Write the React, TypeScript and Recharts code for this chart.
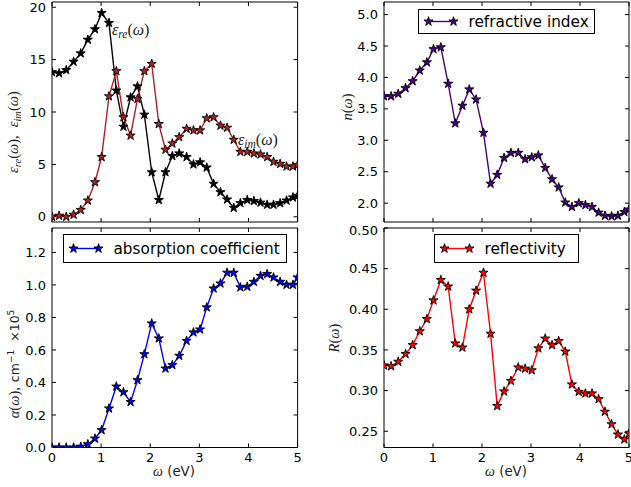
import React from "react";
import { Line, LineChart, XAxis, YAxis } from "recharts";

// photon energy grid (eV)
const energy = [
  0, 0.145, 0.29, 0.44, 0.585, 0.73, 0.875, 1.01, 1.16, 1.31, 1.455, 1.6, 1.74, 1.88, 2.03, 2.175, 2.31, 2.45, 2.59,
  2.74, 2.88, 3.015, 3.15, 3.29, 3.43, 3.565, 3.7, 3.835, 3.975, 4.11, 4.245, 4.38, 4.51, 4.645, 4.775, 4.905, 5.0,
];

const epsRe = [
  13.8, 13.7, 14.0, 14.8, 15.6, 16.9, 17.9, 19.45, 18.5, 12.05, 8.6, 11.4, 12.45, 9.75, 4.25, 1.6, 4.25, 5.8, 6.05, 5.7,
  5.0, 5.2, 4.7, 3.15, 2.35, 1.65, 0.85, 1.3, 1.6, 1.5, 1.35, 1.15, 1.15, 1.3, 1.55, 1.85, 2.0,
];
const epsIm = [
  0.0, 0.1, 0.0, 0.2, 0.65, 1.55, 3.3, 5.7, 11.5, 13.9, 9.5, 7.75, 11.25, 13.9, 14.6, 8.85, 6.4, 7.0, 7.6, 8.4, 8.25,
  8.25, 9.4, 9.5, 8.7, 8.5, 7.35, 6.2, 6.2, 6.05, 5.95, 5.7, 5.25, 5.05, 4.8, 4.8, 4.95,
];
const refrIndex = [
  3.7, 3.7, 3.74, 3.83, 3.94, 4.11, 4.24, 4.45, 4.48, 3.9, 3.27, 3.55, 3.81, 3.65, 3.12, 2.31, 2.45, 2.72, 2.8, 2.8,
  2.7, 2.73, 2.76, 2.56, 2.38, 2.25, 2.01, 1.94, 2.0, 1.97, 1.94, 1.85, 1.8, 1.79, 1.8, 1.86, 1.9,
];
const absorption = [
  0.0, 0.0, 0.0, 0.0, 0.005, 0.02, 0.055, 0.107, 0.24, 0.375, 0.34, 0.28, 0.414, 0.574, 0.763, 0.671, 0.486, 0.507,
  0.564, 0.656, 0.708, 0.726, 0.862, 0.978, 1.009, 1.075, 1.075, 0.985, 0.989, 1.019, 1.056, 1.067, 1.046, 1.019, 1.001,
  1.001, 1.046,
];
const reflectivity = [
  0.331, 0.33, 0.3355, 0.345, 0.356, 0.373, 0.388, 0.411, 0.436, 0.428, 0.358, 0.353, 0.4, 0.423, 0.445, 0.37, 0.281,
  0.299, 0.312, 0.3285, 0.327, 0.325, 0.352, 0.364, 0.356, 0.361, 0.348, 0.3076, 0.2985, 0.2965, 0.2965, 0.2895, 0.274,
  0.2586, 0.246, 0.24, 0.247,
];

const xTicks = [0, 1, 2, 3, 4, 5];
const epsTicks = [0, 5, 10, 15, 20];
const nTicks = [2.0, 2.5, 3.0, 3.5, 4.0, 4.5, 5.0];
const alphaTicks = [0.0, 0.2, 0.4, 0.6, 0.8, 1.0, 1.2];
const rTicks = [0.25, 0.3, 0.35, 0.4, 0.45, 0.5];

const SANS = "DejaVu Sans";
const MATH = "Liberation Serif";

function starPoints(cx: number, cy: number, R: number) {
  const r = R * 0.382;
  const pts: string[] = [];
  for (let k = 0; k < 10; k++) {
    const a = -Math.PI / 2 + (k * Math.PI) / 5;
    const rad = k % 2 === 0 ? R : r;
    pts.push(`${(cx + rad * Math.cos(a)).toFixed(2)},${(cy + rad * Math.sin(a)).toFixed(2)}`);
  }
  return pts.join(" ");
}

function Star({ cx, cy, fill }: { cx: number; cy: number; fill: string }) {
  return <polygon points={starPoints(cx, cy, 4.8)} fill={fill} stroke="#000" strokeWidth={0.9} />;
}

const makeDot = (fill: string) => (props: any) => {
  const { cx, cy, index } = props;
  if (cx == null || cy == null) return <g key={`d-${index}`} />;
  return (
    <g key={`d-${index}`}>
      <Star cx={cx} cy={cy} fill={fill} />
    </g>
  );
};

// inward tick marks: keep the tick lines, blank the labels
const noLabel = () => "";
const blankTick = { fontSize: 1, fill: "none" };

type Series = { key: string; values: number[]; color: string };

type PanelProps = {
  x: number;
  y: number;
  w: number;
  h: number;
  yDomain: [number, number];
  yTicks: number[];
  yFmt: (v: number) => string;
  showX: boolean;
  series: Series[];
};

function Panel({ x, y, w, h, yDomain, yTicks, yFmt, showX, series }: PanelProps) {
  const padTop = 6;
  const padRight = 10;
  const axisW = 50;
  const bottom = showX ? 30 : 6;
  const chartW = axisW + w + padRight;
  const chartH = padTop + h + bottom;
  const data = energy.map((e, i) => {
    const row: Record<string, number> = { e };
    series.forEach((s) => (row[s.key] = s.values[i]));
    return row;
  });
  const tickStyle = { fontSize: 13, fill: "#000", fontFamily: SANS };
  const frame = { stroke: "#000", strokeWidth: 1 };
  return (
    <div style={{ position: "absolute", left: x - axisW, top: y - padTop, width: chartW, height: chartH }}>
      <LineChart
        width={chartW}
        height={chartH}
        data={data}
        margin={{ top: padTop, right: padRight, left: 0, bottom: showX ? 0 : bottom }}
      >
        <XAxis
          xAxisId="b"
          dataKey="e"
          type="number"
          domain={[0, 5]}
          ticks={xTicks}
          allowDataOverflow
          hide={!showX}
          height={bottom}
          tickLine={false}
          axisLine={false}
          tickSize={0}
          tickMargin={5}
          tick={tickStyle}
        />
        <XAxis
          xAxisId="bm"
          dataKey="e"
          type="number"
          orientation="bottom"
          mirror
          domain={[0, 5]}
          ticks={xTicks}
          allowDataOverflow
          height={1}
          tick={blankTick}
          tickFormatter={noLabel}
          tickSize={4}
          tickLine={frame}
          axisLine={frame}
        />
        <XAxis
          xAxisId="t"
          dataKey="e"
          type="number"
          orientation="top"
          mirror
          domain={[0, 5]}
          ticks={xTicks}
          allowDataOverflow
          height={1}
          tick={blankTick}
          tickFormatter={noLabel}
          tickSize={4}
          tickLine={frame}
          axisLine={frame}
        />
        <YAxis
          yAxisId="l"
          type="number"
          domain={yDomain}
          ticks={yTicks}
          allowDataOverflow
          width={axisW}
          tickLine={false}
          axisLine={false}
          tickSize={0}
          tickMargin={6}
          tick={tickStyle}
          tickFormatter={yFmt}
        />
        <YAxis
          yAxisId="lm"
          type="number"
          mirror
          domain={yDomain}
          ticks={yTicks}
          allowDataOverflow
          width={1}
          tick={blankTick}
          tickFormatter={noLabel}
          tickSize={4}
          tickLine={frame}
          axisLine={frame}
        />
        <YAxis
          yAxisId="r"
          type="number"
          orientation="right"
          mirror
          domain={yDomain}
          ticks={yTicks}
          allowDataOverflow
          width={1}
          tick={blankTick}
          tickFormatter={noLabel}
          tickSize={4}
          tickLine={frame}
          axisLine={frame}
        />
        {series.map((s) => (
          <Line
            key={s.key}
            xAxisId="b"
            yAxisId="l"
            type="linear"
            dataKey={s.key}
            stroke={s.color}
            strokeWidth={1.4}
            dot={makeDot(s.color)}
            activeDot={false}
            isAnimationActive={false}
          />
        ))}
      </LineChart>
    </div>
  );
}

function LegendBox({ x, y, w, h, color, label }: { x: number; y: number; w: number; h: number; color: string; label: string }) {
  const cy = y + h / 2;
  return (
    <g>
      <rect x={x} y={y} width={w} height={h} fill="#fff" stroke="#000" strokeWidth={1} />
      <line x1={x + 10} y1={cy} x2={x + 35} y2={cy} stroke={color} strokeWidth={1.4} />
      <Star cx={x + 10} cy={cy} fill={color} />
      <Star cx={x + 35} cy={cy} fill={color} />
      <text x={x + 50} y={cy + 5.5} fontSize={15.3} fontFamily={SANS} fill="#000">
        {label}
      </text>
    </g>
  );
}

function Overlay() {
  const grey = "#222";
  return (
    <svg width={631} height={487} style={{ position: "absolute", left: 0, top: 0, pointerEvents: "none" }}>
      {/* annotations inside the dielectric panel */}
      <text x={112} y={35} fontSize={16} fontFamily={MATH} fill={grey}>
        <tspan fontStyle="italic">ε</tspan>
        <tspan fontStyle="italic" fontSize={11.5} dy={3}>re</tspan>
        <tspan dy={-3}>(</tspan>
        <tspan fontStyle="italic">ω</tspan>
        <tspan>)</tspan>
      </text>
      <text x={238} y={145} fontSize={16} fontFamily={MATH} fill={grey}>
        <tspan fontStyle="italic">ε</tspan>
        <tspan fontStyle="italic" fontSize={11.5} dy={3}>im</tspan>
        <tspan dy={-3}>(</tspan>
        <tspan fontStyle="italic">ω</tspan>
        <tspan>)</tspan>
      </text>

      {/* y labels */}
      <text transform="translate(18,132) rotate(-90)" textAnchor="middle" fontSize={14.5} fontFamily={MATH} fill={grey}>
        <tspan fontStyle="italic">ε</tspan>
        <tspan fontStyle="italic" fontSize={10.5} dy={3}>re</tspan>
        <tspan dy={-3}>(</tspan>
        <tspan fontStyle="italic">ω</tspan>
        <tspan>),</tspan>
        <tspan dx={8} fontStyle="italic">ε</tspan>
        <tspan fontStyle="italic" fontSize={10.5} dy={3}>im</tspan>
        <tspan dy={-3}>(</tspan>
        <tspan fontStyle="italic">ω</tspan>
        <tspan>)</tspan>
      </text>
      <text transform="translate(352,107) rotate(-90)" textAnchor="middle" fontSize={14.5} fontFamily={MATH} fill={grey}>
        <tspan fontStyle="italic">n</tspan>
        <tspan>(</tspan>
        <tspan fontStyle="italic">ω</tspan>
        <tspan>)</tspan>
      </text>
      <text transform="translate(19,364) rotate(-90)" textAnchor="middle" fontSize={14.5} fontFamily={MATH} fill={grey}>
        <tspan fontStyle="italic">α</tspan>
        <tspan>(</tspan>
        <tspan fontStyle="italic">ω</tspan>
        <tspan>),</tspan>
        <tspan dx={5} fontFamily={SANS} fontSize={12.5}>cm</tspan>
        <tspan fontFamily={SANS} fontSize={9} dy={-5}>−1</tspan>
        <tspan dx={8} dy={5} fontFamily={SANS} fontSize={12.5}>×10</tspan>
        <tspan fontFamily={SANS} fontSize={9} dy={-5}>5</tspan>
      </text>
      <text transform="translate(339,338) rotate(-90)" textAnchor="middle" fontSize={14.5} fontFamily={MATH} fill={grey}>
        <tspan fontStyle="italic">R</tspan>
        <tspan>(</tspan>
        <tspan fontStyle="italic">ω</tspan>
        <tspan>)</tspan>
      </text>

      {/* x labels */}
      {[174, 506].map((cx) => (
        <text key={cx} x={cx} y={476} textAnchor="middle" fontSize={14} fill={grey}>
          <tspan fontFamily={MATH} fontStyle="italic">ω</tspan>
          <tspan fontFamily={SANS} fontSize={13.3}> (eV)</tspan>
        </text>
      ))}

      {/* legends */}
      <LegendBox x={418.5} y={9.5} w={176} h={24} color="#4b0082" label="refractive index" />
      <LegendBox x={63.5} y={234.5} w={223} h={28} color="#0000ff" label="absorption coefficient" />
      <LegendBox x={434.5} y={234.5} w={144} h={28} color="#ff0000" label="reflectivity" />
    </svg>
  );
}

export default function App() {
  return (
    <div
      style={{
        position: "absolute",
        left: 0,
        top: 0,
        width: 631,
        height: 487,
        background: "#fff",
        fontFamily: SANS,
        overflow: "hidden",
      }}
    >
      <Panel
        x={51.7}
        y={1.5}
        w={245.6}
        h={220}
        yDomain={[-0.5, 20.5]}
        yTicks={epsTicks}
        yFmt={(v) => String(v)}
        showX={false}
        series={[
          { key: "re", values: epsRe, color: "#000000" },
          { key: "im", values: epsIm, color: "#b22222" },
        ]}
      />
      <Panel
        x={384.3}
        y={1.5}
        w={245}
        h={220}
        yDomain={[1.7, 5.2]}
        yTicks={nTicks}
        yFmt={(v) => v.toFixed(1)}
        showX={false}
        series={[{ key: "n", values: refrIndex, color: "#4b0082" }]}
      />
      <Panel
        x={51.7}
        y={227.5}
        w={245.6}
        h={219.5}
        yDomain={[0, 1.35]}
        yTicks={alphaTicks}
        yFmt={(v) => v.toFixed(1)}
        showX={true}
        series={[{ key: "a", values: absorption, color: "#0000ff" }]}
      />
      <Panel
        x={384}
        y={227.5}
        w={245}
        h={219.5}
        yDomain={[0.23, 0.5]}
        yTicks={rTicks}
        yFmt={(v) => v.toFixed(2)}
        showX={true}
        series={[{ key: "r", values: reflectivity, color: "#ff0000" }]}
      />
      <Overlay />
    </div>
  );
}
